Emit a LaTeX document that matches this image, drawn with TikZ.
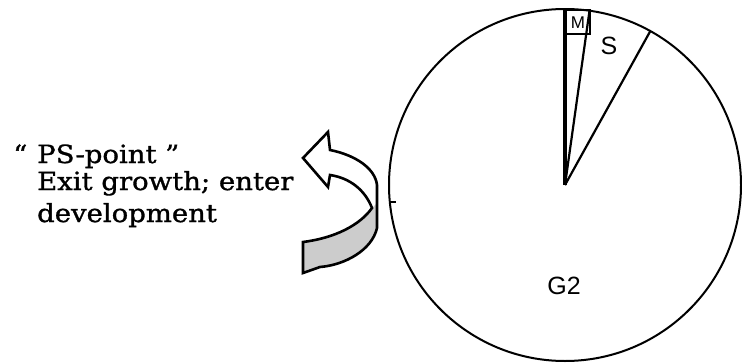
\documentclass[tikz,border=0pt]{standalone}
\usepackage{fontspec}
\newfontfamily\labelfont[FakeStretch=1.1,FakeBold=1.2]{DejaVu Serif}
\newfontfamily\sansf{Liberation Sans}
\begin{document}
\begin{tikzpicture}[x=1pt,y=-1pt,
  rim/.style={line width=2pt},
  spoke/.style={line width=2.2pt},
  arrowline/.style={line width=2.6pt, line join=miter},
  lbl/.style={font=\labelfont\fontsize{25}{30}\selectfont, inner sep=0pt},
  seg/.style={font=\sansf\fontsize{25}{28}\selectfont, inner sep=0pt},
  small/.style={font=\sansf\fontsize{17}{18}\selectfont, inner sep=0pt}]
\useasboundingbox (0,0) rectangle (742,364);
% pie
\coordinate (c) at (565,185);
\draw[rim] (c) circle (176);
\coordinate (top) at (565,9);
\coordinate (mend) at (589.5,10.7);
\coordinate (send) at (650.3,31.1);
\draw[line width=3.5pt] (c) -- (top);
\draw[spoke] (c) -- (mend);
\draw[spoke] (c) -- (send);
\draw[line width=1.5pt] (566,10) rectangle (590,34);
\node[small] (m) at (578,23) {M};
\node[seg] (s) at (609,46) {S};
\node[seg] (g2) at (564,286) {G2};
% tick on rim
\coordinate (tickin) at (396,202);
\coordinate (tickout) at (389,202);
\draw[line width=1.6pt] (tickout) -- (tickin);
% curved arrow
\fill[gray!40] (303,242) .. controls (335,238) and (360,225) .. (372,208)
  -- (377,203) -- (377,228)
  .. controls (372,250) and (345,265) .. (320,267) -- (303,273) -- cycle;
\draw[arrowline] (303,242) .. controls (335,238) and (360,225) .. (372,208)
  .. controls (365,190) and (350,178) .. (330,175)
  -- (328,187) -- (303,158) -- (328,132) -- (330,150)
  .. controls (355,155) and (375,168) .. (377,185)
  -- (377,228)
  .. controls (372,250) and (345,265) .. (320,267) -- (303,273) -- cycle;
% text
\node[lbl, anchor=base west] (q) at (13,163) {“};
\node[lbl, anchor=base west] (l1) at (37,163) {PS-point ”};
\node[lbl, anchor=base west] (l2) at (37,190) {Exit growth; enter};
\node[lbl, anchor=base west] (l3) at (37,222) {development};
\end{tikzpicture}
\end{document}
